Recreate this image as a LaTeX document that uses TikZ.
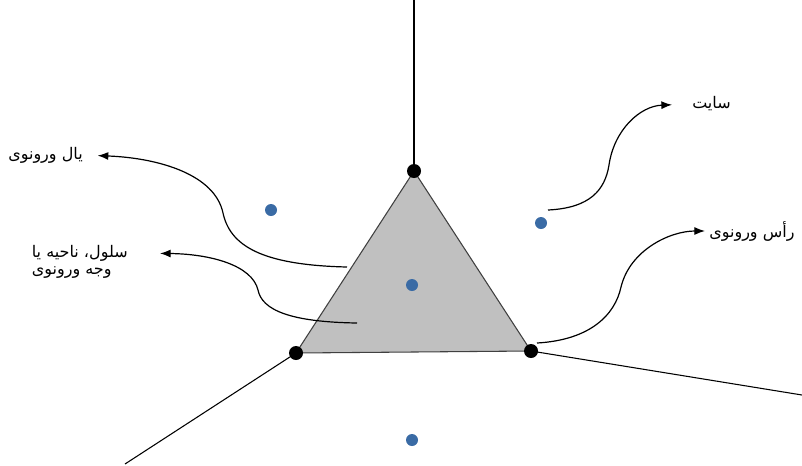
\documentclass[tikz,border=0pt]{standalone}
\usepackage{fontspec}
\usepackage{xcolor}
\usepackage{tikz}
\usetikzlibrary{arrows.meta,positioning}
\TeXXeTstate=1
\newfontfamily\arabicfont[Script=Arabic]{DejaVu Sans}
\definecolor{siteblue}{HTML}{3A6BA5}
\definecolor{cellgray}{HTML}{C0C0C0}

\begin{document}
\begin{tikzpicture}[x=0.75pt, y=-0.75pt,
    vertex/.style={circle, fill=black, inner sep=0, minimum size=10.5pt},
    site/.style={circle, fill=siteblue, inner sep=0, minimum size=9pt},
    callout/.style={-{Latex[length=8pt,width=6pt]}, line width=0.9pt},
    persian/.style={inner sep=0, font=\arabicfont\fontsize{12}{14}\selectfont}]
                \useasboundingbox (0,0) rectangle (802,465);

                % Voronoi vertices
                \coordinate (va) at (414,171);
                \coordinate (vb) at (296,353);
                \coordinate (vc) at (531,351);

                % Cell
                \fill[cellgray] (va) -- (vb) -- (vc) -- cycle;
                \draw[line width=0.8pt, black!75] (va) -- (vb) -- (vc) -- cycle;

                % Outer edges
                \coordinate (topend) at (414,0);
                \coordinate (leftend) at (125,464);
                \coordinate (rightend) at (802,395);
                \draw[line width=0.8pt] (va) -- (topend);
                \draw[line width=0.8pt] (vb) -- (leftend);
                \draw[line width=0.8pt] (vc) -- (rightend);

                % Labels
                \node[persian, anchor=east] (edgelabel) at (83,155) {\beginR یال ورونوی\endR};
                \node[persian, anchor=east] (cellone) at (128,253) {\beginR سلول، ناحیه یا\endR};
                \node[persian, anchor=west] (celltwo) at (cellone.west |- 0,273) {\beginR وجه ورونوی\endR};
                \node[persian, anchor=west] (sitelabel) at (692,104) {\beginR سایت\endR};
                \node[persian, anchor=west] (vertexlabel) at (709,231) {\beginR رأس ورونوی\endR};

                % Callouts
                \coordinate (edgept) at (347,267);
                \coordinate (cellpt) at (357,323);
                \coordinate (sitept) at (548,210);
                \coordinate (vertexpt) at (537,343);
                \draw[callout, shorten >=11pt] (edgept) .. controls (260,265) and (230,245) .. (223,213)
                    .. controls (215,175) and (160,158) .. (edgelabel.east);
                \draw[callout, shorten >=24pt] (cellpt) .. controls (290,322) and (262,310) .. (258,290)
                    .. controls (252,265) and (210,254) .. (cellone.east);
                \draw[callout, shorten >=15pt] (sitept) .. controls (590,208) and (605,190) .. (609,165)
                    .. controls (614,130) and (640,106) .. (sitelabel.west);
                \draw[callout, shorten >=3pt] (vertexpt) .. controls (590,340) and (615,315) .. (621,287)
                    .. controls (630,250) and (670,231) .. (vertexlabel.west);

                % Sites
                \node[site] (sa) at (271,210) {};
                \node[site] (sb) at (541,223) {};
                \node[site] (sc) at (412,285) {};
                \node[site] (sd) at (412,440) {};

                % Vertex dots
                \node[vertex] (dota) at (va) {};
                \node[vertex] (dotb) at (vb) {};
                \node[vertex] (dotc) at (vc) {};
\end{tikzpicture}
\end{document}
